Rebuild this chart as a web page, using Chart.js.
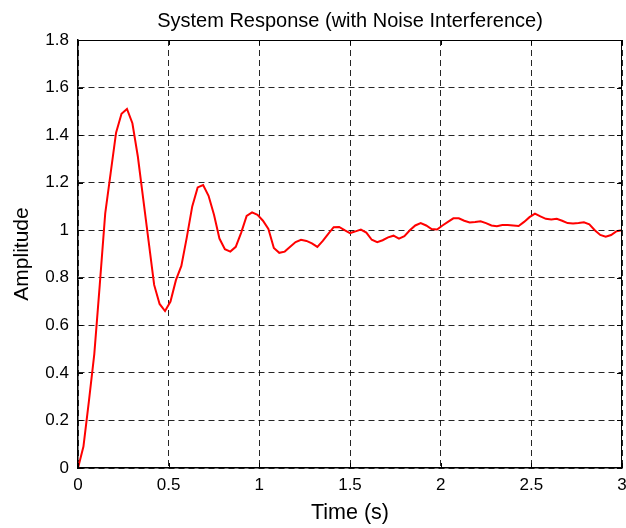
<!DOCTYPE html>
<html>
<head>
<meta charset="utf-8">
<script src="https://cdn.jsdelivr.net/npm/chart.js@4/dist/chart.umd.min.js"></script>
<style>
  html, body { margin: 0; padding: 0; background: #fff; }
  #wrap { width: 626px; height: 528px; position: relative; }
</style>
</head>
<body>
<div id="wrap"><canvas id="c" width="626" height="528"></canvas></div>
<script>
// ---- data ----
const titleText = 'System Response (with Noise Interference)';
const xLabel = 'Time (s)';
const yLabel = 'Amplitude';
const timeValues = [
  0.00, 0.03, 0.06, 0.09, 0.12, 0.15, 0.18, 0.21, 0.24, 0.27,
  0.30, 0.33, 0.36, 0.39, 0.42, 0.45, 0.48, 0.51, 0.54, 0.57,
  0.60, 0.63, 0.66, 0.69, 0.72, 0.75, 0.78, 0.81, 0.84, 0.87,
  0.90, 0.93, 0.96, 0.99, 1.02, 1.05, 1.08, 1.11, 1.14, 1.17,
  1.20, 1.23, 1.26, 1.29, 1.32, 1.35, 1.38, 1.41, 1.44, 1.47,
  1.50, 1.53, 1.56, 1.59, 1.62, 1.65, 1.68, 1.71, 1.74, 1.77,
  1.80, 1.83, 1.86, 1.89, 1.92, 1.95, 1.98, 2.01, 2.04, 2.07,
  2.10, 2.13, 2.16, 2.19, 2.22, 2.25, 2.28, 2.31, 2.34, 2.37,
  2.40, 2.43, 2.46, 2.49, 2.52, 2.55, 2.58, 2.61, 2.64, 2.67,
  2.70, 2.73, 2.76, 2.79, 2.82, 2.85, 2.88, 2.91, 2.94, 2.97,
  3.00
];
const amplitudeValues = [
  0.00, 0.09, 0.28, 0.48, 0.77, 1.07, 1.24, 1.41, 1.49, 1.51,
  1.45, 1.31, 1.13, 0.95, 0.77, 0.69, 0.66, 0.70, 0.79, 0.85,
  0.97, 1.10, 1.18, 1.19, 1.145, 1.065, 0.965, 0.92, 0.91, 0.93,
  0.99, 1.06, 1.075, 1.065, 1.04, 1.005, 0.925, 0.905, 0.91, 0.93,
  0.95, 0.96, 0.955, 0.945, 0.93, 0.955, 0.985, 1.013, 1.014, 1.00,
  0.988, 0.995, 1.003, 0.99, 0.96, 0.95, 0.958, 0.97, 0.977, 0.965,
  0.975, 1.00, 1.02, 1.03, 1.02, 1.005, 1.003, 1.02, 1.035, 1.05,
  1.05, 1.04, 1.033, 1.035, 1.038, 1.03, 1.02, 1.017, 1.022, 1.022,
  1.02, 1.018, 1.035, 1.055, 1.07, 1.058, 1.048, 1.045, 1.048, 1.04,
  1.03, 1.028, 1.03, 1.033, 1.025, 1.00, 0.98, 0.973, 0.98, 0.996,
  1.00
];
const xTicks = [0, 0.5, 1, 1.5, 2, 2.5, 3];
const yTicks = [0, 0.2, 0.4, 0.6, 0.8, 1, 1.2, 1.4, 1.6, 1.8];

const points = timeValues.map((t, i) => ({ x: t, y: amplitudeValues[i] }));
const FONT = "'Liberation Sans', Arial, Helvetica, sans-serif";

// box, inward tick marks (MATLAB style) and title centred over the axes
const boxPlugin = {
  id: 'boxPlugin',
  afterDraw(chart) {
    const { ctx, chartArea: a, scales } = chart;
    ctx.save();
    ctx.strokeStyle = '#000';
    ctx.setLineDash([]);
    ctx.lineWidth = 1;
    ctx.beginPath();
    ctx.moveTo(a.left, a.top + 0.5); ctx.lineTo(a.right, a.top + 0.5);
    ctx.moveTo(a.right - 0.5, a.top); ctx.lineTo(a.right - 0.5, a.bottom);
    ctx.stroke();
    const L = 5;
    ctx.beginPath();
    xTicks.forEach(v => {
      const px = Math.round(scales.x.getPixelForValue(v)) + 0.5;
      ctx.moveTo(px, a.bottom); ctx.lineTo(px, a.bottom - L);
      ctx.moveTo(px, a.top); ctx.lineTo(px, a.top + L);
    });
    yTicks.forEach(v => {
      const py = Math.round(scales.y.getPixelForValue(v)) + 0.5;
      ctx.moveTo(a.left, py); ctx.lineTo(a.left + L, py);
      ctx.moveTo(a.right, py); ctx.lineTo(a.right - L, py);
    });
    ctx.stroke();
    // title
    ctx.fillStyle = '#000';
    ctx.font = '20px ' + FONT;
    ctx.textAlign = 'center';
    ctx.textBaseline = 'middle';
    ctx.fillText(titleText, (a.left + a.right) / 2, 21);
    ctx.restore();
  }
};

new Chart(document.getElementById('c'), {
  type: 'line',
  data: {
    datasets: [{
      data: points,
      borderColor: '#ff0000',
      borderWidth: 2,
      pointRadius: 0,
      tension: 0,
      fill: false
    }]
  },
  options: {
    responsive: false,
    animation: false,
    layout: { padding: { left: 0, right: 4, top: 40, bottom: 0 } },
    plugins: {
      legend: { display: false },
      tooltip: { enabled: false },
      title: { display: false }
    },
    scales: {
      x: {
        type: 'linear',
        min: 0, max: 3,
        afterBuildTicks: s => { s.ticks = xTicks.map(v => ({ value: v })); },
        afterFit: s => { s.height = 60; s.paddingRight = 0; s.paddingLeft = 0; },
        ticks: {
          color: '#000',
          padding: 7,
          maxRotation: 0,
          font: { family: FONT, size: 17 },
          callback: v => String(v)
        },
        grid: { color: 'rgba(0,0,0,0.85)', lineWidth: 1, drawTicks: false },
        border: { display: true, color: '#000', width: 1.5, dash: [6, 4] },
        title: {
          display: true, text: xLabel, color: '#000',
          font: { family: FONT, size: 21.5, lineHeight: 1.2 },
          padding: { top: 0, bottom: 2 }
        }
      },
      y: {
        type: 'linear',
        min: 0, max: 1.8,
        afterBuildTicks: s => { s.ticks = yTicks.map(v => ({ value: v })); },
        afterFit: s => { s.width = 78; s.paddingTop = 0; s.paddingBottom = 0; },
        ticks: {
          color: '#000',
          padding: 9,
          font: { family: FONT, size: 17 },
          callback: v => String(Math.round(v * 10) / 10)
        },
        grid: { color: 'rgba(0,0,0,0.85)', lineWidth: 1, drawTicks: false },
        border: { display: true, color: '#000', width: 1.5, dash: [6, 4] },
        title: {
          display: true, text: yLabel, color: '#000',
          font: { family: FONT, size: 21, lineHeight: 1.2 },
          padding: { top: 10, bottom: 0 }
        }
      }
    }
  },
  plugins: [boxPlugin]
});
</script>
</body>
</html>
